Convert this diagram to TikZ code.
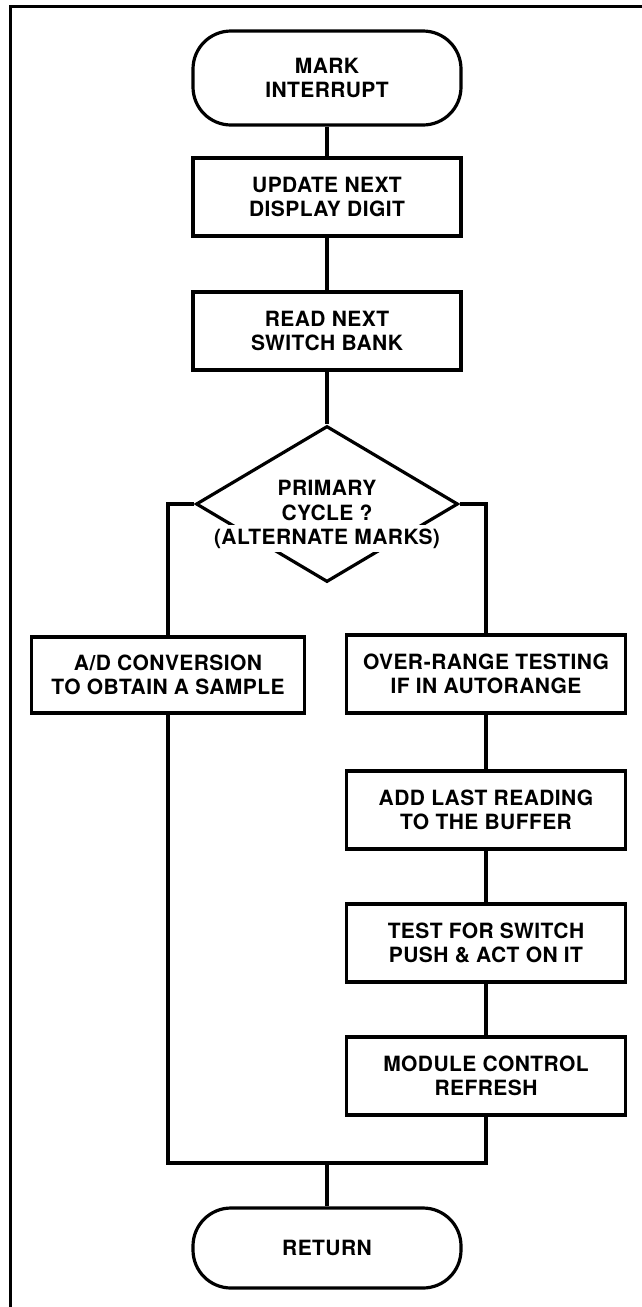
\documentclass[tikz,border=0pt]{standalone}
\usepackage{fontspec}
\setmainfont[LetterSpace=2]{TeX Gyre Heros}
\usetikzlibrary{shapes.geometric}
\begin{document}
\begin{tikzpicture}[x=1pt,y=-1pt,line width=3.2pt,
  txt/.style={font=\fontsize{21}{24}\selectfont\bfseries,align=center},
  proc/.style={txt,draw,rectangle,minimum height=78pt,inner sep=0pt},
  term/.style={txt,draw,rectangle,rounded corners=38pt,minimum width=268pt,inner sep=0pt},
  dtxt/.style={txt,anchor=base,inner xsep=0pt}]
\useasboundingbox (0,0) rectangle (642,1307);
% frame
\coordinate (fr1) at (642,6);
\coordinate (fr2) at (10,6);
\coordinate (fr3) at (10,1307);
\draw[line width=3pt] (fr1) -- (fr2) -- (fr3);
% nodes
\node[term,minimum height=94pt] (start) at (327,78) {MARK\\INTERRUPT};
\node[proc,minimum width=268pt] (b1) at (327,197) {UPDATE NEXT\\DISPLAY DIGIT};
\node[proc,minimum width=268pt] (b2) at (327,331) {READ NEXT\\SWITCH BANK};
\node[draw,diamond,minimum width=262pt,minimum height=156pt,inner sep=0pt] (dec) at (327,504) {};
\node[dtxt] (dect1) at (327,495) {PRIMARY};
\node[dtxt] (dect2) at (327,520) {CYCLE ?};
\node[dtxt,fill=white,inner ysep=3.5pt] (dect3) at (327,544) {(ALTERNATE MARKS)};
\node[proc,minimum width=273pt,minimum height=76pt] (ad) at (168,675) {A/D CONVERSION\\TO OBTAIN A SAMPLE};
\node[proc,minimum width=279pt] (ovr) at (486,674) {OVER-RANGE TESTING\\IF IN AUTORANGE};
\node[proc,minimum width=279pt] (add) at (486,810) {ADD LAST READING\\TO THE BUFFER};
\node[proc,minimum width=279pt] (tst) at (486,943) {TEST FOR SWITCH\\PUSH \& ACT ON IT};
\node[proc,minimum width=279pt] (mod) at (486,1076) {MODULE CONTROL\\REFRESH};
\node[term,minimum height=80pt] (ret) at (327,1248) {RETURN};
\coordinate (jl) at (168,1163);
\coordinate (jr) at (486,1163);
\coordinate (jc) at (327,1163);
% connectors
\draw (start) -- (b1);
\draw (b1) -- (b2);
\draw (b2) -- (dec.north);
\draw (dec.west) -| (ad.north);
\draw (dec.east) -| (ovr.north);
\draw (ovr) -- (add);
\draw (add) -- (tst);
\draw (tst) -- (mod);
\draw (ad.south) -- (jl) -- (jr) -- (mod.south);
\draw (jc) -- (ret.north);
\end{tikzpicture}
\end{document}
